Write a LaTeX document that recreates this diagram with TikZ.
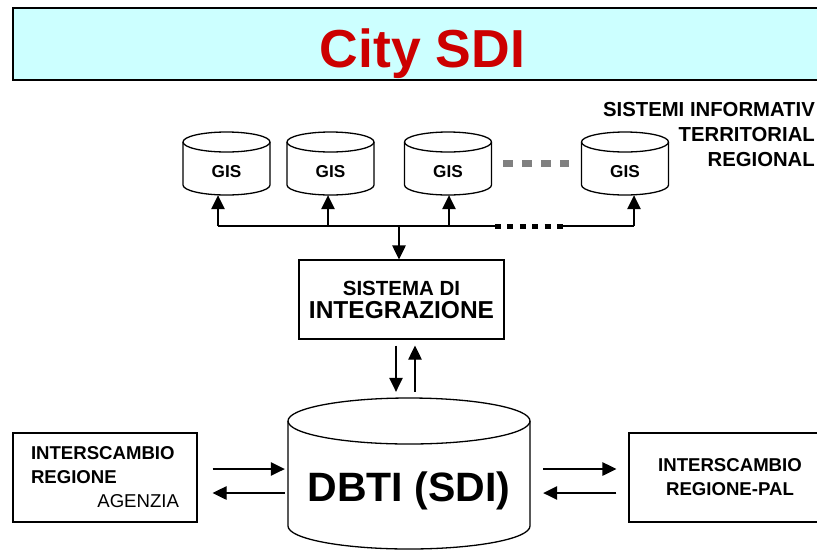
\documentclass[tikz,border=0pt]{standalone}
\usepackage{fontspec}
\setmainfont{Liberation Sans}
\usetikzlibrary{arrows.meta,calc}
\definecolor{titlebg}{HTML}{CCFFFF}
\definecolor{titlered}{HTML}{CC0000}
\definecolor{dotgray}{HTML}{808080}
% cylinder outline: cx, ytop, ybot, a, ry
\newcommand{\cylshape}[5]{%
  \draw[cylline, fill=white] (#1-#4,#2) -- (#1-#4,#3)
     arc[start angle=180,end angle=360,x radius=#4pt,y radius=#5pt] -- (#1+#4,#2);
  \draw[cylline] (#1,#2) ellipse[x radius=#4pt, y radius=#5pt];
}
\tikzset{
  cylline/.style={line width=1.3pt},
  boxnode/.style={draw, line width=1.2pt, fill=white, inner sep=0pt},
  gisnode/.style={minimum width=86pt, minimum height=63pt, inner sep=0pt,
     text height=27pt, text depth=0pt,
     font=\fontsize{17.2}{20}\selectfont\bfseries},
  arr/.style={line width=1.2pt, -{Triangle[length=14pt,width=13.5pt]}},
  plain/.style={line width=1.2pt},
}
\begin{document}
\begin{tikzpicture}[x=1pt,y=-1pt]
\useasboundingbox (0,0) rectangle (817,550);
% title
\node[draw, line width=1.6pt, fill=titlebg, minimum width=818pt, minimum height=72pt, inner sep=0pt] (title) at (422,44) {};
\node[anchor=base, text=titlered, font=\fontsize{53.5}{54}\selectfont\bfseries] (titletext) at (422.5,67) {City SDI};
% GIS cylinders
\cylshape{226.5}{142}{185}{43.5}{10}
\cylshape{330.5}{142}{185}{43.5}{10}
\cylshape{448}{142}{185}{43.5}{10}
\cylshape{625}{142}{185}{43.5}{10}
\node[gisnode] (g1) at (226.5,163.5) {GIS};
\node[gisnode] (g2) at (330.5,163.5) {GIS};
\node[gisnode] (g3) at (448,163.5) {GIS};
\node[gisnode] (g4) at (625,163.5) {GIS};
% gray dots between cylinders
\draw[dotgray, line width=7pt, dash pattern=on 10pt off 9pt] (503,163) -- (569,163);
% top right label
\node[anchor=east, align=right, inner sep=0pt, font=\fontsize{20.3}{25}\selectfont\bfseries] (sit) at (815,135) {SISTEMI INFORMATIV\\TERRITORIAL\\REGIONAL};
% bus
\coordinate (b1) at (218,226);
\coordinate (b2) at (328,226);
\coordinate (b3) at (449,226);
\coordinate (b4) at (634,226);
\coordinate (bc) at (399,226);
\coordinate (dotA) at (495,226);
\coordinate (dotB) at (563,226);
\draw[plain] (b1) -- (dotA);
\draw[line width=5pt, dash pattern=on 6pt off 6.4pt] (dotA) -- (dotB);
\draw[plain] (dotB) -- (b4);
\draw[arr] (b1) -- (b1 |- g1.south);
\draw[arr] (b2) -- (b2 |- g2.south);
\draw[arr] (b3) -- (b3 |- g3.south);
\draw[arr] (b4) -- (b4 |- g4.south);
% integration box
\node[boxnode, minimum width=205pt, minimum height=79pt, align=center,
  font=\fontsize{24.5}{23}\selectfont\bfseries] (integ) at (401.5,299.5)
  {{\fontsize{20.5}{20}\selectfont SISTEMA DI}\\INTEGRAZIONE};
\draw[arr] (bc) -- (bc |- integ.north);
% DBTI cylinder
\cylshape{409}{421}{526}{121}{23}
\node[minimum width=242pt, minimum height=151pt, inner sep=0pt, text height=55pt, text depth=0pt,
  font=\fontsize{41}{44}\selectfont\bfseries] (dbti) at (409,473.5) {DBTI (SDI)};
\draw[arr] ($(integ.south)+(-5.5,6)$) -- ($(dbti.north)+(-13,-6)$);
\draw[arr] ($(dbti.north)+(6,-6)$) -- ($(integ.south)+(13.5,6)$);
% left box
\node[boxnode, minimum width=184pt, minimum height=89pt, text width=148pt, align=left, inner xsep=18pt,
  font=\fontsize{18.6}{24}\selectfont] (lbox) at (105,477.5)
  {\textbf{INTERSCAMBIO}\\\textbf{REGIONE}\\\hspace*{\fill}AGENZIA};
% right box
\node[boxnode, minimum width=202pt, minimum height=89pt, align=center,
  font=\fontsize{18.6}{24}\selectfont\bfseries] (rbox) at (730,477.5)
  {INTERSCAMBIO\\REGIONE-PAL};
% exchange arrows
\draw[arr] ($(lbox.east)+(15,-8.5)$) -- ($(dbti.west)+(-3,-4.5)$);
\draw[arr] ($(dbti.west)+(-3,19.5)$) -- ($(lbox.east)+(15,15.5)$);
\draw[arr] ($(dbti.east)+(13,-4.5)$) -- ($(rbox.west)+(-12,-8.5)$);
\draw[arr] ($(rbox.west)+(-12,15.5)$) -- ($(dbti.east)+(13,19.5)$);
\end{tikzpicture}
\end{document}
